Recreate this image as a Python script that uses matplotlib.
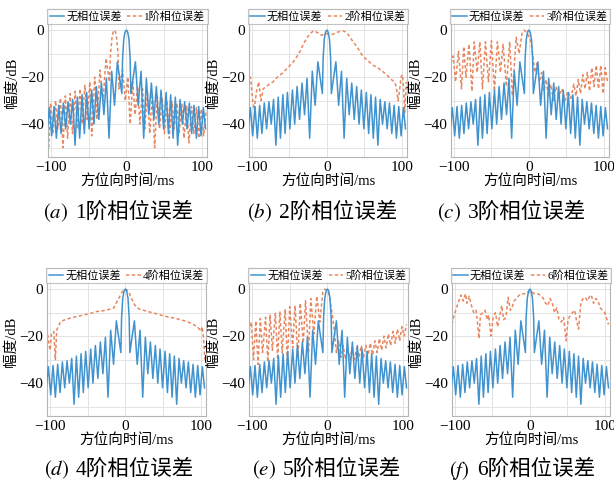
import numpy as np
import matplotlib
matplotlib.use("Agg")
import matplotlib.pyplot as plt
from matplotlib.ticker import FixedLocator

plt.rcParams['font.family'] = ['Liberation Serif', 'Noto Sans CJK SC']
plt.rcParams['mathtext.fontset'] = 'stix'
plt.rcParams['axes.unicode_minus'] = True

# reference curve (no phase error), positive half: peaks and nulls
ref_t_half = [0, 1, 2, 3.5, 5, 6, 12, 15.7, 19.5, 23, 26.5, 29.8, 33.2, 36.5, 39.8, 43, 46,
              49.4, 52.7, 55.8, 58.8, 62, 65, 68.1, 71.2, 74.3, 77.4, 80.5, 83.6, 86.7,
              89.8, 92.9, 96, 99.1, 102.2, 105]
ref_db_half = [0, -0.3, -1.2, -4, -12, -27, -13.5, -32, -17.5, -46, -20.5, -36, -22.5, -38,
               -24, -40, -25.5, -42, -26.5, -44, -27.5, -46, -28.5, -49, -29.5, -40, -30.5,
               -42, -31, -44, -32, -46, -32.5, -45, -33, -42]

# 1st order phase error
err1_t = [-103, -100.5, -97.5, -94, -91, -87.5, -84, -81, -78, -74.5, -71.5, -68, -65, -61.5,
          -58.5, -55, -52, -48.5, -46, -42, -39, -35, -31, -27, -22.5, -21, -19, -17.5,
          -16, -14.5, -13, -11, -10, -5, -1.5, 2, 5, 8.5, 11.5, 15, 18, 21.5, 24.5, 28, 31,
          34.5, 37.5, 41, 44, 47.5, 50.5, 54, 57, 60.5, 63.5, 67, 70, 73.5, 76.5, 80, 83,
          86.5, 89.5, 93, 96, 99.5, 102.5, 106]
err1_db = [-50, -31, -44, -30, -42, -29, -50, -28, -46, -27, -44, -26, -42, -25, -40, -23.5,
           -38, -22, -45, -20, -38, -17, -30, -12, -22, -10, -3, -0.7, 0, -0.7, -3, -10,
           -25, -17, -30, -20, -40, -22, -36, -24, -40, -25, -42, -26, -44, -27, -50, -28,
           -42, -29, -44, -30, -46, -30.5, -42, -31, -44, -31.5, -46, -32, -48, -32.5, -44,
           -33, -46, -33.5, -45, -34]

# 2nd order phase error
err2_t = [-104, -102, -99, -97, -94, -91, -88, -85, -79, -72, -66, -60, -53, -46, -40, -35,
          -31, -26, -22, -18, -14, -11, -7, -4, 0, 4, 8, 13, 17, 22, 25, 28.7, 34, 40, 44,
          48.6, 55, 62, 68, 75, 80, 86, 90, 92.7, 95, 97, 99, 101, 102.4, 104, 106]
err2_db = [-20, -20, -30, -34, -26, -22, -30, -25, -23.5, -22, -20, -18.5, -16.3, -14, -11.3,
           -8.5, -5.7, -3, -1.4, -0.3, -0.8, -1.4, -2.2, -1.8, -1.5, -1.8, -1.8, -1, -0.6,
           -0.3, -0.8, -2, -4.5, -7, -9, -11.3, -13, -15, -16, -17.7, -19, -21, -22, -24,
           -30, -26, -20, -19, -25, -35, -22]

# 3rd order phase error
err3_t = [-104, -101, -98, -94, -90, -87, -84, -80, -76, -73, -69, -65.5, -62, -58, -54, -50,
          -46, -42, -38, -34.5, -30, -25.7, -22, -17, -13, -9, -6, -2, 2, 5, 8, 11, 14, 17,
          20, 23, 26, 29, 33, 36, 40, 44, 48, 52, 56, 60, 63, 66, 69, 72, 75, 78, 81, 84,
          87, 90, 93, 96, 99, 102, 105]
err3_db = [-14, -11, -22, -9, -25, -7, -20, -6, -26, -5, -18, -5, -25, -5, -22, -4.5, -26, -5,
           -18, -6, -24, -5, -28, -3, -10, -1, 0, -1.5, -4, -10, -18, -14, -22, -18, -26,
           -21, -28, -23, -30, -24, -28, -25, -30, -26, -29, -23, -28, -21, -27, -19, -25,
           -18, -26, -16, -24, -15, -25, -15, -27, -16, -22]

# 4th order phase error
err4_t = [-105, -104, -102, -100, -98, -95, -93, -91, -86, -80, -73, -64, -55, -46, -37.6,
          -30, -24, -18, -15.5, -13, -11, -8, -5, -2, 0, 2, 5, 9, 12, 15.5, 20, 29, 38,
          46.7, 55, 64.4, 73, 82, 90, 95.5, 98, 100, 102, 104, 105.5]
err4_db = [-17, -17.3, -22, -26, -19, -18, -30, -17.3, -13.8, -13, -12.3, -11.6, -11, -10.3,
           -9.5, -9.2, -8.8, -8.3, -8, -6.5, -5.2, -3.5, -1.5, -0.3, 0, -0.3, -1.5, -4.5,
           -6.5, -8, -8.6, -9.5, -10.2, -11, -11.7, -12.3, -13, -13.8, -15, -16, -17, -18,
           -16, -22, -30]

# 5th order phase error
err5_t = [-104, -101, -98, -95, -92, -89, -86, -82, -79, -76, -73, -69, -66, -63, -60, -56,
          -53, -50, -46, -43, -39, -36, -32, -29, -25, -22, -18, -14, -10, -6, -3.5, 0, 3,
          6, 9, 12, 15, 18, 21, 24, 27, 30, 33, 36, 39, 42, 45, 48, 51, 54, 57, 60, 63,
          66, 69, 72, 75, 78, 81, 84, 87, 90, 93, 96, 99, 102, 105]
err5_db = [-18, -14, -30, -13.5, -32, -12.5, -27, -12, -31, -11, -26, -10, -30, -9.5, -27,
           -8.5, -31, -7.5, -25, -7, -29, -6, -23, -5, -27, -4, -19, -3, -14, -1, 0, -0.5,
           -3, -10, -17, -27, -22, -29, -24, -30, -25, -30, -25, -30, -25, -29, -24, -29,
           -24, -28, -23, -28, -22, -27, -21, -26, -20, -25, -19, -24, -18, -23, -17, -22,
           -16, -20, -15]

# 6th order phase error
err6_t = [-104, -101, -98, -95, -92, -89, -86, -84, -81, -78, -75, -72, -70, -68, -66, -63,
          -60, -57, -55, -52, -49, -46, -43, -40, -37.5, -35, -32, -29, -26, -24, -21, -18,
          -15.5, -12, -8, -5, -2, 0, 2, 5, 8, 11, 15.5, 18, 21, 24, 27, 30, 33, 36, 39, 42,
          45, 48.5, 51, 54, 57, 60, 62, 65, 68, 71, 74, 77, 80, 82, 85, 88, 91, 94, 97,
          100, 103, 105]
err6_db = [-15, -11, -8, -5, -2.5, -5, -2, -6, -3, -7, -10, -9, -14, -21, -11, -10, -9, -13,
           -11, -20, -12, -10, -16, -11, -7, -13, -12, -3.5, -9, -8, -5, -4, -3, -2, -2,
           -1.8, -1, -1.5, -1, -1.8, -2, -2, -3, -4, -6, -7, -4, -6, -10, -8, -13, -14, -12,
           -22, -13, -11, -10, -9, -13, -17, -6, -4, -3.5, -5, -3, -2.5, -6, -4, -5, -8, -9,
           -10, -13, -15]

err_t = [err1_t, err2_t, err3_t, err4_t, err5_t, err6_t]
err_db = [err1_db, err2_db, err3_db, err4_db, err5_db, err6_db]
orders = ['1', '2', '3', '4', '5', '6']
letters = ['a', 'b', 'c', 'd', 'e', 'f']

ref_t = np.concatenate([-np.array(ref_t_half[::-1][:-1]), ref_t_half])
ref_db = np.concatenate([ref_db_half[::-1][:-1], ref_db_half])

W, H = 614, 491
fig = plt.figure(figsize=(W / 100, H / 100), dpi=100)

# axes boxes in pixels: left, bottom, width, height
boxes = [(48, 157, 159, 148), (249, 157, 158, 148), (451, 157, 158, 148),
         (47, 416, 159, 148), (249, 416, 159, 148), (452, 416, 158, 148)]
cap_x = [118, 322, 511, 119, 326, 520]
cap_y = [213, 213, 213, 470, 470, 470]

blue = '#4093cf'
orange = '#e8875f'

for i in range(6):
    l, b, w, h = boxes[i]
    ax = fig.add_axes([l / W, 1 - b / H, w / W, h / H])
    ax.plot(ref_t, ref_db, color=blue, lw=1.1, label='无相位误差', zorder=3)
    ax.plot(err_t[i], err_db[i], color=orange, lw=1.1, ls=(0, (2.2, 1.6)),
            label=orders[i] + '阶相位误差', zorder=2)
    ax.set_xlim(-104, 107)
    ax.set_ylim(-54, 9)
    ax.xaxis.set_major_locator(FixedLocator([-100, 0, 100]))
    ax.xaxis.set_minor_locator(FixedLocator([-50, 50]))
    ax.yaxis.set_major_locator(FixedLocator([0, -20, -40]))
    ax.yaxis.set_minor_locator(FixedLocator([-10, -30, -50]))
    ax.grid(True, which='both', color='#e3e3e3', lw=0.7, zorder=0)
    ax.tick_params(which='both', length=0, labelsize=11, pad=3)
    for s in ax.spines.values():
        s.set_color('#b5b5b5')
        s.set_linewidth(0.8)
    ax.set_xlabel('方位向时间/ms', fontsize=10.5, labelpad=0)
    ax.set_ylabel('幅度/dB', fontsize=10.5, labelpad=1)
    leg = ax.legend(loc='upper center', bbox_to_anchor=(0.5, 1.0), ncol=2, fontsize=8,
                    handlelength=1.3, handletextpad=0.2, columnspacing=0.5,
                    borderpad=0.2, borderaxespad=0.0, frameon=True, fancybox=False)
    leg.get_frame().set_edgecolor('#b5b5b5')
    leg.get_frame().set_linewidth(0.8)
    # caption: italic letter in brackets, then the order text
    fig.text((cap_x[i] - 50) / W, 1 - cap_y[i] / H,
             '$(\\mathit{' + letters[i] + '})$', fontsize=15, ha='right', va='center')
    fig.text((cap_x[i] - 43) / W, 1 - cap_y[i] / H,
             orders[i] + '阶相位误差', fontsize=15.5, ha='left', va='center')

fig.savefig('out.png', dpi=100)
